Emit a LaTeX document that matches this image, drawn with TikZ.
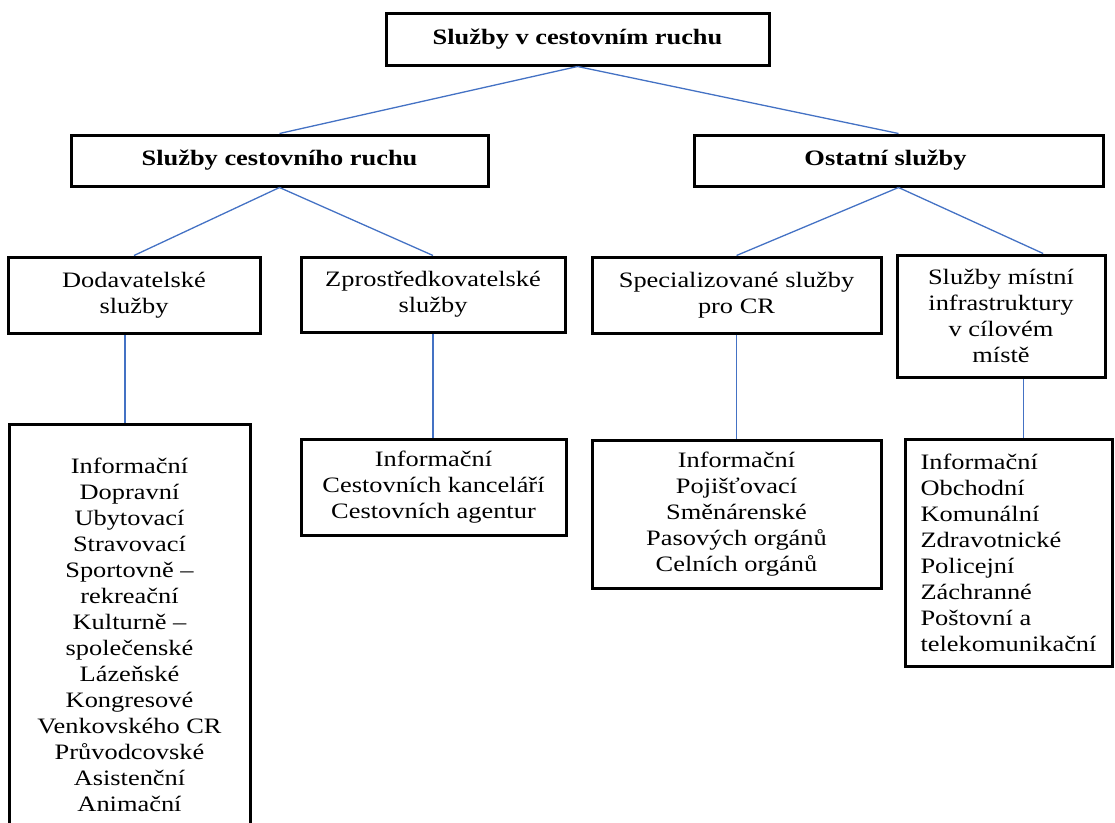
\documentclass[tikz,border=0pt]{standalone}
\usepackage{fontspec}
\setmainfont[FakeStretch=1.2]{Liberation Serif}
\usepackage{xcolor}
\usepackage{tikz}
\definecolor{linkblue}{RGB}{68, 114, 196}

\begin{document}
\begin{tikzpicture}[x=1pt, y=-1pt,
  box/.style={draw, line width=3pt, align=center, inner sep=0pt,
    font=\fontsize{22}{26}\selectfont},
  head/.style={box, font=\fontsize{22}{26}\selectfont\bfseries},
  link/.style={linkblue, line width=1.3pt}]
\useasboundingbox (0,0) rectangle (1115,822);
\clip (0,0) rectangle (1115,822);

\node[head, minimum width=383pt, minimum height=52pt] (root) at (577.5,39) {Služby v cestovním ruchu};
\node[head, minimum width=417pt, minimum height=51pt] (tour) at (279.5,160.5) {Služby cestovního ruchu};
\node[head, minimum width=409pt, minimum height=51pt] (other) at (898.5,160.5) {Ostatní služby\hspace*{26pt}};

\node[box, minimum width=252pt, minimum height=76pt] (supply) at (134,295) {Dodavatelské\\služby};
\node[box, minimum width=264pt, minimum height=75pt] (agency) at (433,294.5) {Zprostředkovatelské\\služby};
\node[box, minimum width=289pt, minimum height=76pt] (special) at (736.5,295) {Specializované služby\\pro CR};
\node[box, minimum width=208pt, minimum height=122pt] (local) at (1001,316) {Služby místní\\infrastruktury\\v cílovém\\místě};

\node[box, minimum width=241pt, minimum height=422pt] (supplylist) at (129.5,635) {Informační\\Dopravní\\Ubytovací\\Stravovací\\Sportovně –\\rekreační\\Kulturně –\\společenské\\Lázeňské\\Kongresové\\Venkovského CR\\Průvodcovské\\Asistenční\\Animační};
\node[box, minimum width=265pt, minimum height=96pt] (agencylist) at (433.5,487) {Informační\\Cestovních kanceláří\\Cestovních agentur};
\node[box, minimum width=289pt, minimum height=148pt] (speciallist) at (736.5,514) {Informační\\Pojišťovací\\Směnárenské\\Pasových orgánů\\Celních orgánů};
\node[box, align=left, minimum width=207pt, minimum height=227pt] (locallist) at (1008.5,552.5) {Informační\\Obchodní\\Komunální\\Zdravotnické\\Policejní\\Záchranné\\Poštovní a\\telekomunikační};

\draw[link] (root.south) -- (tour.north);
\draw[link] (root.south) -- (other.north);
\draw[link] (tour.south) -- (supply.north);
\draw[link] (tour.south) -- (agency.north);
\draw[link] (other.south) -- (special.north);
\draw[link] (other.south) -- (local.56);
\draw[link] (supplylist.north -| 125,0) -- (supply.south -| 125,0);
\draw[link] (agency.south) -- (agency.south |- agencylist.north);
\draw[link] (special.south) -- (special.south |- speciallist.north);
\draw[link] (local.-70) -- (local.-70 |- locallist.north);
\end{tikzpicture}
\end{document}
